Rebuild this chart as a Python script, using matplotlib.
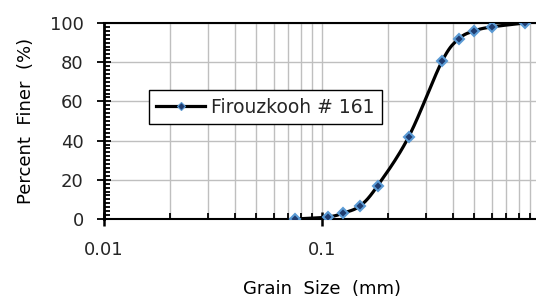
import numpy as np
import matplotlib
matplotlib.use('Agg')
from matplotlib import pyplot as plt
from matplotlib.ticker import LogLocator, MultipleLocator, FixedFormatter, FixedLocator

# Dati
size_mm = np.array([0.075, 0.106, 0.125, 0.15, 0.18, 0.25, 0.355, 0.425, 0.5, 0.6, 0.85])
finer = np.array([0.0, 1.0, 3.0, 6.8, 17.0, 42.0, 80.4, 92.0, 96.0, 98.0, 100.0])
series_name = 'Firouzkooh # 161'
xtick_vals = [0.01, 0.1]
xtick_text = ['0.01', '0.1']


def smooth(x, y, n=20):
    # curva tipo Excel (Catmull-Rom) in scala log
    lx = np.log10(x)
    px = np.concatenate([[2 * lx[0] - lx[1]], lx, [2 * lx[-1] - lx[-2]]])
    py = np.concatenate([[2 * y[0] - y[1]], y, [2 * y[-1] - y[-2]]])
    xs, ys = [], []
    t = np.linspace(0, 1, n)
    for i in range(1, len(px) - 2):
        for p, out in ((px, xs), (py, ys)):
            p0, p1, p2, p3 = p[i - 1], p[i], p[i + 1], p[i + 2]
            out.extend(0.5 * ((2 * p1) + (-p0 + p2) * t
                              + (2 * p0 - 5 * p1 + 4 * p2 - p3) * t**2
                              + (-p0 + 3 * p1 - 3 * p2 + p3) * t**3))
    return 10 ** np.array(xs), np.array(ys)


plt.rcParams['font.family'] = ['DejaVu Sans']
plt.rcParams['text.color'] = '#262626'
plt.rcParams['xtick.labelcolor'] = '#262626'
plt.rcParams['ytick.labelcolor'] = '#262626'
fig = plt.figure(figsize=(5.36, 2.97), dpi=100)
ax = fig.add_axes([104 / 536, 78 / 297, 436 / 536, 196 / 297])

ax.set_xscale('log')
ax.set_xlim(0.01, 1)
ax.set_ylim(0, 100)

xs, ys = smooth(size_mm, finer)
ax.plot(xs, ys, color='black', lw=2.3, zorder=3)
ax.plot(size_mm, finer, ls='none', marker='D', ms=5.5, mfc='#1f3b6e',
        mec='#5b9bd5', mew=1.5, zorder=4)
# solo per la legenda
ax.plot([], [], color='black', lw=2.3, marker='D', ms=4, mfc='#1f3b6e',
        mec='#5b9bd5', mew=0.8, label=series_name)

ax.xaxis.set_major_locator(FixedLocator(xtick_vals))
ax.xaxis.set_major_formatter(FixedFormatter(xtick_text))
ax.xaxis.set_minor_locator(LogLocator(base=10, subs=np.arange(2, 10)))
ax.xaxis.set_minor_formatter(plt.NullFormatter())
ax.yaxis.set_major_locator(MultipleLocator(20))
ax.yaxis.set_minor_locator(MultipleLocator(2))

ax.tick_params(axis='x', which='major', direction='inout', length=10, width=1.8,
               labelsize=13, pad=11)
ax.tick_params(axis='x', which='minor', direction='in', length=4.5, width=1.3,
               color='black')
ax.tick_params(axis='y', which='major', direction='inout', length=10, width=1.3,
               labelsize=13, pad=9.5)
ax.tick_params(axis='y', which='minor', direction='in', length=4, width=1.3,
               color='black')

ax.grid(which='both', axis='x', color='#bfbfbf', lw=1)
ax.grid(which='major', axis='y', color='#bfbfbf', lw=1)

for s in ax.spines.values():
    s.set_linewidth(1.5)
ax.spines['left'].set_linewidth(2)

ax.set_xlabel('Grain  Size  (mm)', fontsize=13, labelpad=15)
ax.set_ylabel('Percent  Finer  (%)', fontsize=13, labelpad=11)

leg = ax.legend(loc='upper left', bbox_to_anchor=(0.103, 0.658), borderaxespad=0,
                fontsize=13.5, fancybox=False, framealpha=1, edgecolor='black',
                handlelength=2.6, handletextpad=0.3, borderpad=0.4)
leg.get_frame().set_linewidth(1)

fig.savefig('out.png', dpi=100)
